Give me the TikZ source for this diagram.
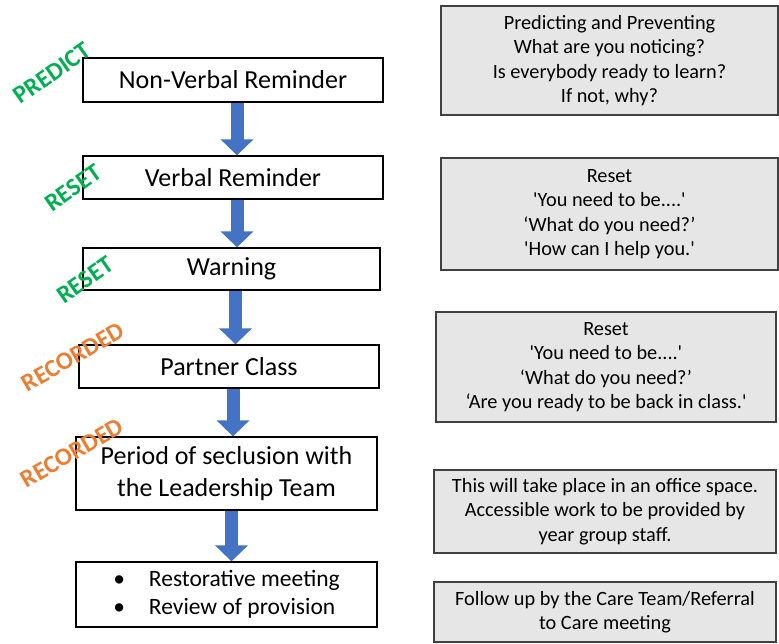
\documentclass[tikz,border=0pt]{standalone}
\usepackage{fontspec}
\setmainfont{Carlito}
\usetikzlibrary{arrows.meta}
\definecolor{flowblue}{RGB}{68,114,196}
\definecolor{notegray}{RGB}{230,230,230}
\definecolor{stampgreen}{RGB}{0,176,80}
\definecolor{stamporange}{RGB}{237,125,49}

\begin{document}
\begin{tikzpicture}[x=1pt,y=-1pt,
  stepbox/.style={draw=black,line width=1.3pt,minimum width=300pt,inner sep=0pt,
    align=center,font=\fontsize{26}{32}\selectfont},
  notebox/.style={draw=black!75,fill=notegray,line width=1.3pt,inner sep=0pt,
    align=center,font=\fontsize{20.3}{24.3}\selectfont},
  stamp/.style={font=\bfseries\fontsize{25}{25}\selectfont},
  flow/.style={draw=flowblue,line width=13pt,-{Triangle[width=32pt,length=16pt]}}]
\useasboundingbox (0,0) rectangle (779,643);
\node[stepbox,minimum height=44pt] (nonverbal) at (233,80) {Non-Verbal Reminder};
\node[stepbox,minimum height=43pt] (verbal) at (233,177.5) {Verbal Reminder};
\node[stepbox,minimum width=297pt,minimum height=42pt] (warning) at (231.5,269) {Warning};
\node[stepbox,minimum height=43pt] (partner) at (229,366.5) {Partner Class};
\node[stepbox,minimum width=301pt,minimum height=73pt] (seclusion) at (226.5,473.5) {Period of seclusion with\\the Leadership Team};
\node[stepbox,minimum width=301pt,minimum height=65pt,font=\fontsize{23.5}{28}\selectfont] (meeting) at (226.5,594.5)
  {\begin{tabular}{@{}l@{\hspace{24pt}}l@{}}\textbullet & Restorative meeting\\ \textbullet & Review of provision\end{tabular}};
\node[notebox,minimum width=337pt,minimum height=109pt] (predictnote) at (609.5,60.5)
  {Predicting and Preventing\\What are you noticing?\\Is everybody ready to learn?\\If not, why?};
\node[notebox,minimum width=337pt,minimum height=112pt] (resetnote) at (609.5,214)
  {Reset\\\textquotesingle You need to be....\textquotesingle\\‘What do you need?’\\\textquotesingle How can I help you.\textquotesingle};
\node[notebox,minimum width=340pt,minimum height=110pt] (partnernote) at (606,367)
  {Reset\\\textquotesingle You need to be....\textquotesingle\\‘What do you need?’\\‘Are you ready to be back in class.\textquotesingle};
\node[notebox,minimum width=342pt,minimum height=83pt] (officenote) at (605,511.5)
  {This will take place in an office space.\\Accessible work to be provided by\\year group staff.};
\node[notebox,minimum width=342pt,minimum height=60pt] (carenote) at (605,612)
  {Follow up by the Care Team/Referral\\to Care meeting};
\draw[flow] ([xshift=4pt]nonverbal.south) -- ([xshift=4pt]nonverbal.south |- verbal.north);
\draw[flow] ([xshift=4pt]verbal.south) -- ([xshift=4pt]verbal.south |- warning.north);
\draw[flow] ([xshift=4pt]warning.south) -- ([xshift=4pt]warning.south |- partner.north);
\draw[flow] ([xshift=4pt]partner.south) -- ([xshift=4pt]partner.south |- seclusion.north);
\draw[flow] ([xshift=5pt]seclusion.south) -- ([xshift=5pt]seclusion.south |- meeting.north);
\node[stamp,text=stampgreen,rotate=35] (predictstamp) at (52,73) {PREDICT};
\node[stamp,text=stampgreen,rotate=35] (resetstamp) at (73,188) {RESET};
\node[stamp,text=stampgreen,rotate=35] (resetstamp2) at (85,280) {RESET};
\node[stamp,text=stamporange,rotate=30] (recordstamp) at (73,357) {RECORDED};
\node[stamp,text=stamporange,rotate=30] (recordstamp2) at (72,453) {RECORDED};
\end{tikzpicture}
\end{document}
